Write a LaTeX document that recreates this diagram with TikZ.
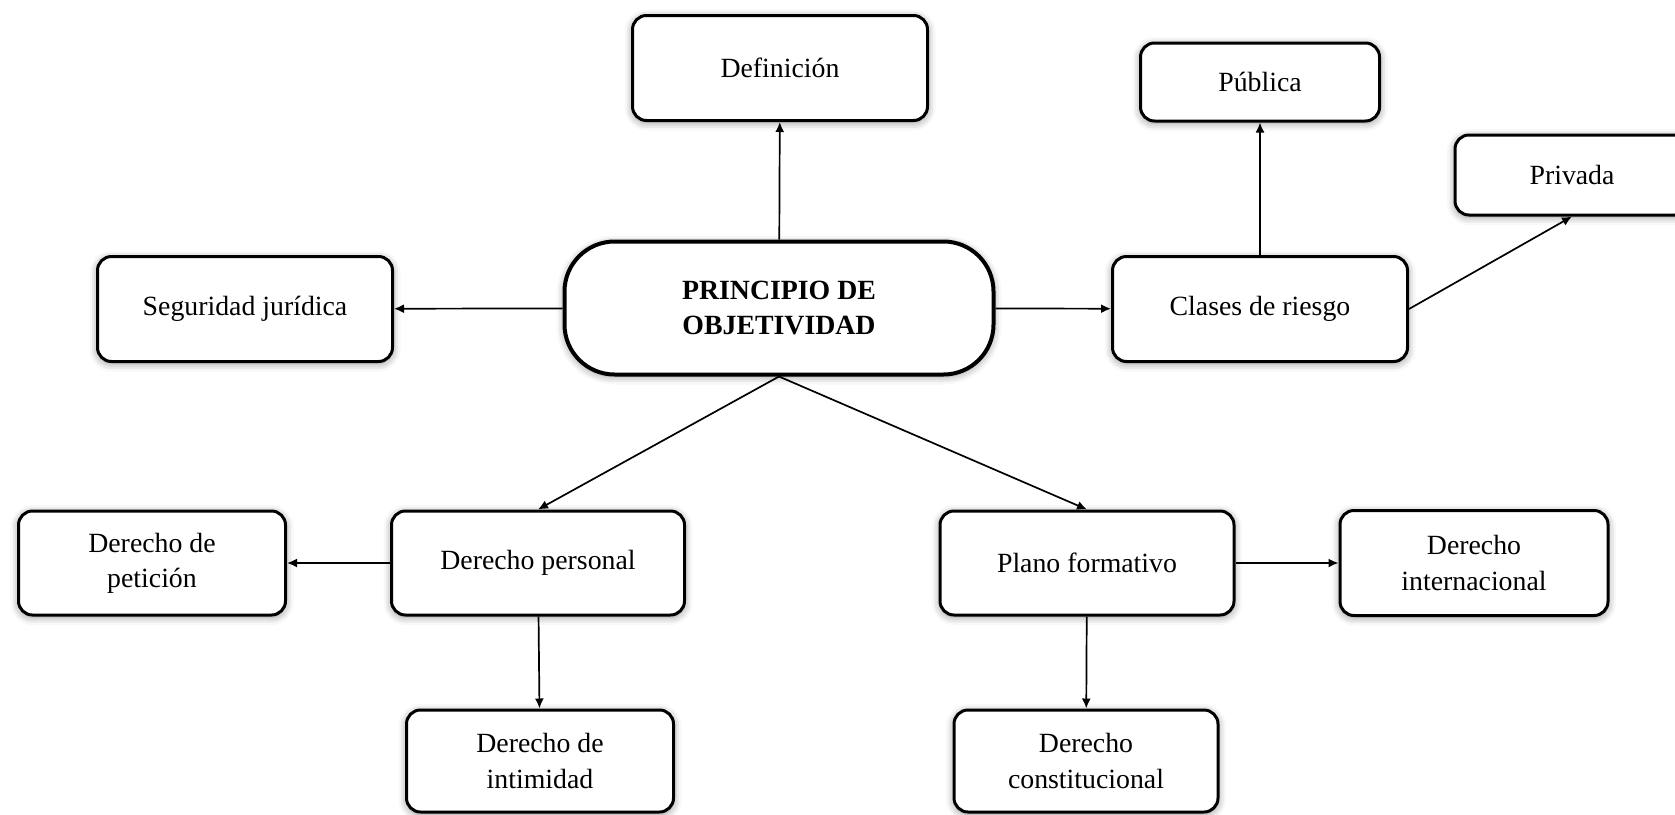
\documentclass[tikz,border=0pt]{standalone}
\usepackage{fontspec}
\setmainfont{Liberation Serif}
\usepackage{tikz}
\usetikzlibrary{shadows.blur,arrows.meta}

\begin{document}
\begin{tikzpicture}[x=0.5pt,y=-0.5pt]
		\useasboundingbox (0,0) rectangle (1675,814);
		\clip (0,0) rectangle (1675,814);
		\tikzstyle{box}=[draw,line width=1.5pt,rounded corners=7pt,fill=white,align=center,
			font=\fontsize{13.9}{17.6}\selectfont,inner sep=2pt,
			blur shadow={shadow xshift=0pt,shadow yshift=-1pt,shadow blur radius=4pt,shadow opacity=45}]
		\tikzstyle{link}=[-{Latex[length=5pt,width=4.5pt]},line width=0.85pt]
		% centre
		\node[box,line width=2pt,rounded corners=25pt,minimum width=214.5pt,minimum height=66.5pt,
			font=\fontsize{13.9}{17.6}\selectfont\bfseries] (po) at (779,308) {PRINCIPIO DE\\OBJETIVIDAD};
		% upper row
		\node[box,minimum width=147.5pt,minimum height=52.5pt] (def) at (780,68) {Definición};
		\node[box,minimum width=119.5pt,minimum height=39pt] (pub) at (1260,82) {Pública};
		\node[box,minimum width=117pt,minimum height=40pt] (priv) at (1572,175) {Privada};
		\node[box,minimum width=147.5pt,minimum height=52.5pt] (seg) at (245,309) {Seguridad jurídica};
		\node[box,minimum width=147.5pt,minimum height=52.5pt] (cla) at (1260,309) {Clases de riesgo};
		% lower rows
		\node[box,minimum width=133.5pt,minimum height=52pt] (pet) at (152,563) {Derecho de\\petición};
		\node[box,minimum width=146.5pt,minimum height=52pt] (dp) at (538,563) {Derecho personal};
		\node[box,minimum width=147pt,minimum height=52pt] (pf) at (1087,563) {Plano formativo};
		\node[box,minimum width=134pt,minimum height=52.5pt] (dint) at (1474,563) {Derecho\\internacional};
		\node[box,minimum width=133.5pt,minimum height=51pt] (dim) at (540,761) {Derecho de\\intimidad};
		\node[box,minimum width=132pt,minimum height=51pt] (dcon) at (1086,761) {Derecho\\constitucional};
		% links
		\draw[link] (po) -- (def);
		\draw[link] (po) -- (seg);
		\draw[link] (po) -- (cla);
		\draw[link] (cla) -- (pub);
		\draw[link] (cla.east) -- (priv.south);
		\draw[link] (po.south) -- (dp.north);
		\draw[link] (po.south) -- (pf.north);
		\draw[link] (dp) -- (pet);
		\draw[link] (dp) -- (dim);
		\draw[link] (pf) -- (dint);
		\draw[link] (pf) -- (dcon);
	\end{tikzpicture}
\end{document}
